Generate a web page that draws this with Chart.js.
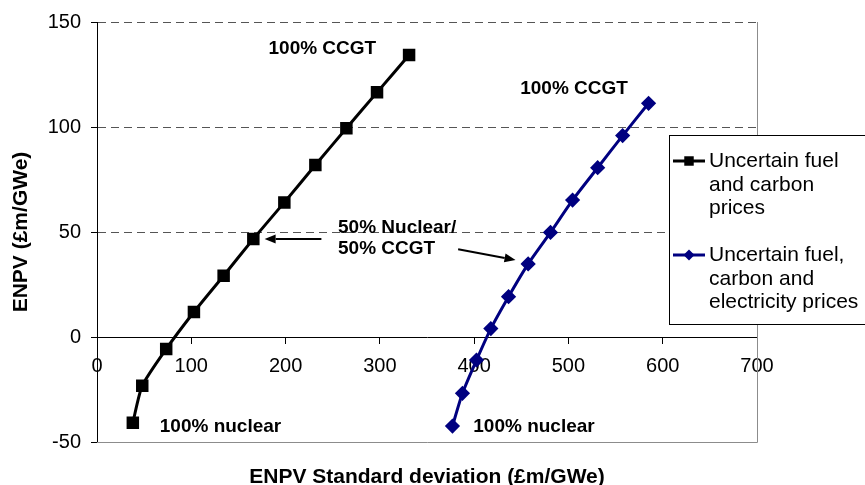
<!DOCTYPE html>
<html>
<head>
<meta charset="utf-8">
<script src="https://cdn.jsdelivr.net/npm/chart.js@4"></script>
<style>html,body{margin:0;padding:0;background:#fff}</style>
</head>
<body>
<canvas id="enpvChart" width="865" height="485"></canvas>
<script>
// ENPV against its standard deviation, nuclear/CCGT portfolio mixes
const fuelCarbonSd   = [38, 48, 73.4, 102.8, 134.3, 165.8, 198.7, 231.6, 264.5, 297, 331];
const fuelCarbonEnpv = [-40.8, -23.2, -5.7, 11.9, 29.2, 46.7, 64.1, 81.9, 99.4, 116.5, 134.3];
const allPricesSd    = [377, 387.6, 402.5, 417.7, 436.5, 457.3, 481, 504.4, 531, 557.5, 585];
const allPricesEnpv  = [-42.4, -26.8, -11, 4, 19.2, 34.8, 49.8, 65.2, 80.6, 95.9, 111.3];
const seriesNames = [['Uncertain fuel', 'and carbon', 'prices'], ['Uncertain fuel,', 'carbon and', 'electricity prices']];
const xRange = [0, 700, 100];
const yRange = [-50, 150, 50];
const xTitle = 'ENPV Standard deviation (£m/GWe)';
const yTitle = 'ENPV (£m/GWe)';

// text notes and arrows, placed in data units
const notes = [
  {text: '100% CCGT', x: 239, y: 134.8, align: 'center'},
  {text: '100% CCGT', x: 506, y: 115.6, align: 'center'},
  {text: '100% nuclear', x: 131, y: -45.4, align: 'center'},
  {text: '100% nuclear', x: 463.5, y: -45.1, align: 'center'},
  {text: '50% Nuclear/', x: 255.6, y: 49.4, align: 'left'},
  {text: '50% CCGT', x: 255.6, y: 39.4, align: 'left'}
];
const arrows = [
  {from: [238, 46.7], to: [177.8, 46.7]},
  {from: [383, 41.8], to: [443.9, 36.7]}
];

const FAMILY = '"Liberation Sans", Arial, Helvetica, sans-serif';
const font = (size, bold) => (bold ? 'bold ' : '') + size + 'px ' + FAMILY;

function toPoints(xs, ys) {
  return xs.map((x, i) => ({x: x, y: ys[i]}));
}

function marker(ctx, style, r, x, y, color) {
  ctx.fillStyle = color;
  ctx.beginPath();
  if (style === 'rect') {
    const s = Math.SQRT1_2 * r;
    ctx.rect(x - s, y - s, 2 * s, 2 * s);
  } else {
    ctx.moveTo(x - r, y); ctx.lineTo(x, y - r); ctx.lineTo(x + r, y); ctx.lineTo(x, y + r);
    ctx.closePath();
  }
  ctx.fill();
}

const decorations = {
  id: 'decorations',
  beforeDatasetsDraw(chart) {
    const {ctx, chartArea: a} = chart;
    ctx.save();
    ctx.strokeStyle = '#8c8c8c';
    ctx.lineWidth = 1;
    ctx.beginPath();
    ctx.moveTo(a.left, a.bottom + 0.5);
    ctx.lineTo(a.right + 0.5, a.bottom + 0.5);
    ctx.lineTo(a.right + 0.5, a.top);
    ctx.stroke();
    ctx.restore();
  },
  afterDraw(chart) {
    const {ctx, chartArea: a, scales: {x, y}} = chart;
    ctx.save();
    ctx.fillStyle = '#000';

    // notes
    ctx.font = font(19, true);
    ctx.textBaseline = 'alphabetic';
    notes.forEach(n => {
      ctx.textAlign = n.align;
      ctx.fillText(n.text, x.getPixelForValue(n.x), y.getPixelForValue(n.y));
    });

    // arrows
    ctx.strokeStyle = '#000';
    ctx.lineWidth = 2;
    arrows.forEach(ar => {
      const x1 = x.getPixelForValue(ar.from[0]), y1 = y.getPixelForValue(ar.from[1]);
      const x2 = x.getPixelForValue(ar.to[0]), y2 = y.getPixelForValue(ar.to[1]);
      const ang = Math.atan2(y2 - y1, x2 - x1);
      const len = 11, half = 4.5;
      const bx = x2 - len * Math.cos(ang), by = y2 - len * Math.sin(ang);
      ctx.beginPath();
      ctx.moveTo(x1, y1);
      ctx.lineTo(bx, by);
      ctx.stroke();
      ctx.beginPath();
      ctx.moveTo(x2, y2);
      ctx.lineTo(bx + half * Math.sin(ang), by - half * Math.cos(ang));
      ctx.lineTo(bx - half * Math.sin(ang), by + half * Math.cos(ang));
      ctx.closePath();
      ctx.fill();
    });

    // axis titles
    ctx.font = font(21, true);
    ctx.textAlign = 'center';
    ctx.textBaseline = 'middle';
    ctx.fillText(xTitle, (a.left + a.right) / 2, 477);
    ctx.save();
    ctx.translate(21, (a.top + a.bottom) / 2);
    ctx.rotate(-Math.PI / 2);
    ctx.fillText(yTitle, 0, 0);
    ctx.restore();

    // legend box
    ctx.fillStyle = '#fff';
    ctx.fillRect(669.5, 135.5, 210, 189);
    ctx.strokeStyle = '#000';
    ctx.lineWidth = 1;
    ctx.strokeRect(669.5, 135.5, 210, 189);
    ctx.font = font(21, false);
    ctx.textAlign = 'left';
    ctx.textBaseline = 'alphabetic';
    const rows = [161, 255];
    chart.data.datasets.forEach((ds, i) => {
      const ly = rows[i];
      ctx.strokeStyle = ds.borderColor;
      ctx.lineWidth = 3;
      ctx.beginPath();
      ctx.moveTo(673, ly);
      ctx.lineTo(705, ly);
      ctx.stroke();
      marker(ctx, ds.pointStyle, ds.pointRadius, 689, ly, ds.backgroundColor);
      ctx.fillStyle = '#000';
      seriesNames[i].forEach((line, j) => ctx.fillText(line, 709, ly + 6 + j * 23.5));
    });
    ctx.restore();
  }
};

new Chart(document.getElementById('enpvChart'), {
  type: 'scatter',
  data: {
    datasets: [{
      label: seriesNames[0].join(' '),
      data: toPoints(fuelCarbonSd, fuelCarbonEnpv),
      showLine: true,
      borderColor: '#000000',
      backgroundColor: '#000000',
      borderWidth: 3,
      pointStyle: 'rect',
      pointRadius: 6.7,
      pointHoverRadius: 6.7,
      tension: 0.2
    }, {
      label: seriesNames[1].join(' '),
      data: toPoints(allPricesSd, allPricesEnpv),
      showLine: true,
      borderColor: '#000080',
      backgroundColor: '#000080',
      borderWidth: 3,
      pointStyle: 'rectRot',
      pointRadius: 5.5,
      pointHoverRadius: 5.5,
      tension: 0.2
    }]
  },
  options: {
    responsive: false,
    animation: false,
    layout: { padding: { left: 0, right: 108, top: 22, bottom: 43 } },
    plugins: { legend: { display: false }, tooltip: { enabled: false } },
    scales: {
      x: {
        type: 'linear',
        position: { y: 0 },
        min: xRange[0], max: xRange[1],
        ticks: { stepSize: xRange[2], color: '#000', font: { family: FAMILY, size: 20 }, padding: 11, maxRotation: 0 },
        grid: { drawOnChartArea: false, drawTicks: true, tickLength: 6, tickColor: '#000', color: '#000' },
        border: { display: true, color: '#000', width: 1 },
        afterFit: s => { s.height = 0; }
      },
      y: {
        type: 'linear',
        position: 'left',
        min: yRange[0], max: yRange[1],
        ticks: { stepSize: yRange[2], color: '#000', font: { family: FAMILY, size: 20 }, padding: 10 },
        grid: {
          color: c => (c.tick && c.tick.value > 0 ? '#555' : 'rgba(0,0,0,0)'),
          lineWidth: 1, tickLength: 6, tickColor: '#000', tickBorderDash: []
        },
        border: { display: true, color: '#000', width: 1, dash: [8, 5] },
        afterFit: s => { s.width = 97; }
      }
    }
  },
  plugins: [decorations]
});
</script>
</body>
</html>
